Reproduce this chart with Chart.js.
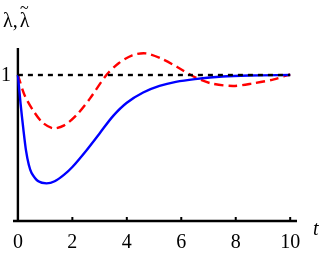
<!DOCTYPE html>
<html>
<head>
<meta charset="utf-8">
<script src="https://cdn.jsdelivr.net/npm/chart.js@4.4.0/dist/chart.umd.min.js"></script>
</head>
<body style="margin:0;background:#fff">
<canvas id="chart" width="327" height="259"></canvas>
<script>
// Values
const blueT = [0, 0.1, 0.2, 0.3, 0.4, 0.5, 0.75, 1.05, 1.35, 1.7, 2.0, 2.5, 3.0, 3.5, 4.0, 4.6, 5.2, 5.8, 6.5, 7.5, 8.5, 10];
const blueV = [1.0, 0.8, 0.63, 0.48, 0.385, 0.33, 0.272, 0.258, 0.272, 0.318, 0.37, 0.48, 0.6, 0.72, 0.81, 0.88, 0.925, 0.953, 0.972, 0.99, 0.997, 1.0];

const redT = [0, 0.25, 0.55, 0.9, 1.3, 1.7, 2.15, 2.65, 3.25, 3.7, 4.2, 4.7, 5.3, 5.85, 6.45, 7.05, 7.9, 8.65, 9.4, 10];
const redV = [1.0, 0.86, 0.76, 0.675, 0.635, 0.655, 0.725, 0.84, 1.0, 1.08, 1.135, 1.148, 1.11, 1.055, 0.99, 0.945, 0.925, 0.943, 0.97, 1.005];

const refT = [0, 10];
const refV = [1, 1];

const xTicks = [0, 2, 4, 6, 8, 10];
const yTicks = [1];

const serif = 'Times New Roman';

function pts(ts, vs) {
    return ts.map(function(t, i) { return { x: t, y: vs[i] }; });
}

// Axes drawn Mathematica-style: lines through the origin with small inward ticks
const axesPlugin = {
    id: 'axes',
    beforeDatasetsDraw(chart) {
        const ctx = chart.ctx;
        const xs = chart.scales.x, ys = chart.scales.y;
        const area = chart.chartArea;
        const x0 = xs.getPixelForValue(0);
        const y0 = ys.getPixelForValue(0);
        ctx.save();
        ctx.strokeStyle = '#000';
        ctx.lineWidth = 2.4;
        ctx.beginPath();
        ctx.moveTo(area.left, y0);
        ctx.lineTo(area.right, y0);
        ctx.moveTo(x0, area.top);
        ctx.lineTo(x0, y0);
        ctx.stroke();
        // small ticks
        ctx.lineWidth = 2;
        ctx.beginPath();
        xTicks.forEach(function(t) {
            if (t === 0) return;
            const px = xs.getPixelForValue(t);
            ctx.moveTo(px, y0);
            ctx.lineTo(px, y0 - 4);
        });
        yTicks.forEach(function(v) {
            const py = ys.getPixelForValue(v);
            ctx.moveTo(x0, py);
            ctx.lineTo(x0 + 4, py);
        });
        ctx.stroke();
        ctx.restore();
    },
    afterDraw(chart) {
        const ctx = chart.ctx;
        const ys = chart.scales.y;
        ctx.save();
        ctx.fillStyle = '#000';
        ctx.font = '20px ' + serif;
        ctx.textAlign = 'right';
        ctx.textBaseline = 'middle';
        yTicks.forEach(function(v) {
            ctx.fillText(String(v), 11, ys.getPixelForValue(v) + 1);
        });
        // y label: lambda, lambda with a tilde drawn above it
        ctx.textAlign = 'left';
        ctx.textBaseline = 'alphabetic';
        const lam = '\u03bb';
        ctx.fillText(lam + ',', 3, 27);
        const lx = 3 + ctx.measureText(lam + ',').width + 2;
        ctx.fillText(lam, lx, 27);
        ctx.font = '16px ' + serif;
        ctx.textAlign = 'center';
        ctx.fillText('~', lx + ctx.measureText(lam).width * 0.6, 13);
        ctx.font = 'italic 20px ' + serif;
        ctx.textAlign = 'left';
        ctx.fillText('t', 313, 235);
        ctx.restore();
    }
};

new Chart(document.getElementById('chart'), {
    type: 'line',
    data: {
        datasets: [{
            data: pts(refT, refV),
            borderColor: '#000',
            borderWidth: 2.4,
            borderDash: [5, 5],
            pointRadius: 0
        }, {
            data: pts(blueT, blueV),
            borderColor: '#0000ff',
            borderWidth: 2.4,
            pointRadius: 0,
            tension: 0.3
        }, {
            data: pts(redT, redV),
            borderColor: '#ff0000',
            borderWidth: 2.4,
            borderDash: [9, 5],
            pointRadius: 0,
            tension: 0.3
        }]
    },
    options: {
        responsive: false,
        animation: false,
        devicePixelRatio: 1,
        layout: { padding: { left: 13, right: 30, top: 48, bottom: 0 } },
        plugins: { legend: { display: false }, tooltip: { enabled: false } },
        scales: {
            x: {
                type: 'linear',
                min: -0.18,
                max: 10.25,
                afterBuildTicks: function(scale) {
                    scale.ticks = xTicks.map(function(v) { return { value: v }; });
                },
                afterFit: function(scale) { scale.height = 38; },
                grid: { display: false, drawTicks: false },
                border: { display: false },
                ticks: {
                    color: '#000',
                    padding: 10,
                    maxRotation: 0,
                    font: { family: serif, size: 20 }
                }
            },
            y: {
                display: false,
                min: 0,
                max: 1.185
            }
        }
    },
    plugins: [axesPlugin]
});
</script>
</body>
</html>
